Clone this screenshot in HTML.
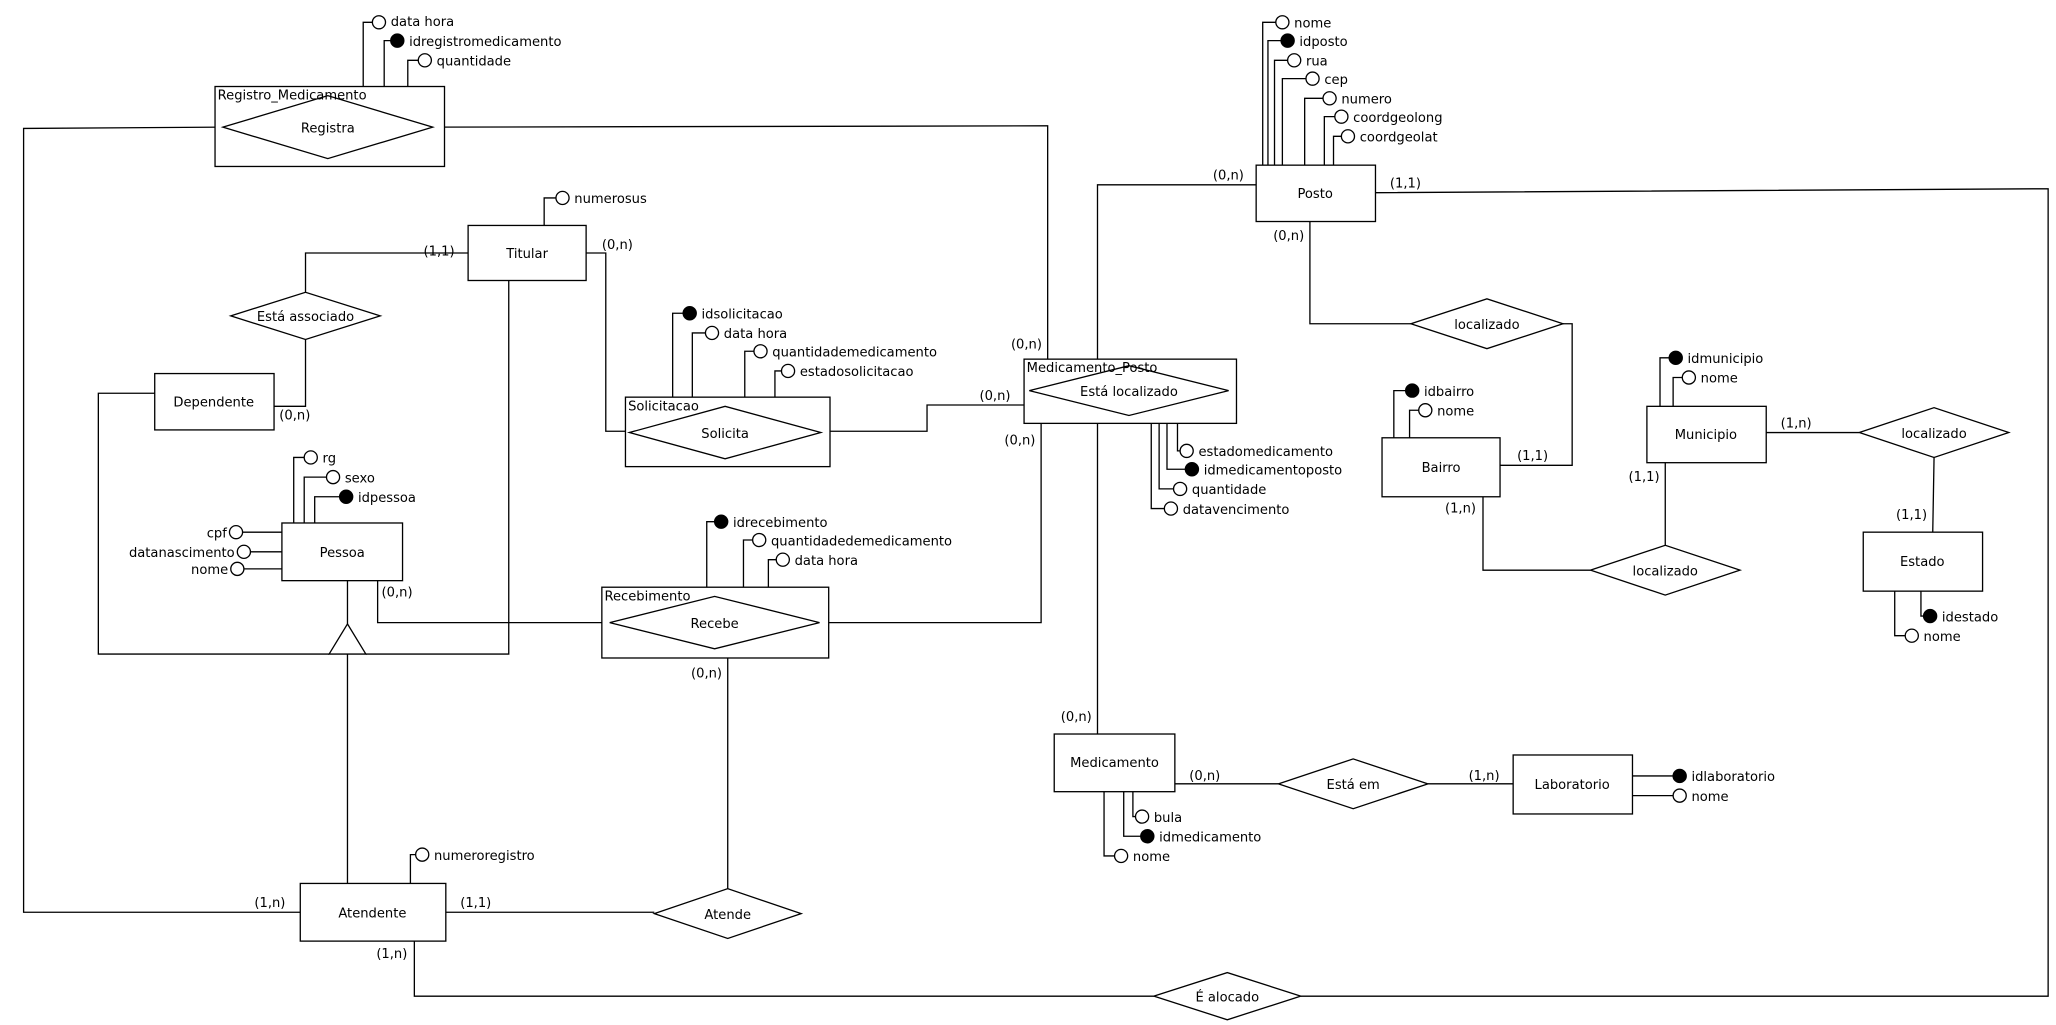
<!DOCTYPE html>
<html><head><meta charset="utf-8"><style>
html,body{margin:0;padding:0;background:#fff;}
svg{display:block;}
text{font-family:"DejaVu Sans","Liberation Sans",sans-serif;font-size:10px;fill:#000;}
.l{stroke:#000;stroke-width:1;fill:none;}
.r{stroke:#000;stroke-width:1;fill:#fff;}
.o{stroke:#000;stroke-width:1;fill:#fff;}
.f{stroke:#000;stroke-width:1;fill:#000;}
</style></head><body>
<svg width="2056" height="1025" viewBox="0 0 1568 782" preserveAspectRatio="none" xmlns="http://www.w3.org/2000/svg">
<!-- connectors -->
<polyline class="l" points="170,97 18,98 18,696 229,696"/>
<polyline class="l" points="330,97 799,96 799,274"/>
<polyline class="l" points="357,193 233,193 233,223"/>
<polyline class="l" points="233,259 233,310 209,310"/>
<polyline class="l" points="447,193 462,193 462,329 480,329"/>
<polyline class="l" points="626,329 707,329 707,309 781,309"/>
<polyline class="l" points="118,300 75,300 75,499 251,499"/>
<polyline class="l" points="388,214 388,499 279,499"/>
<line class="l" x1="265" y1="443" x2="265" y2="476"/>
<line class="l" x1="265" y1="499" x2="265" y2="674"/>
<polyline class="l" points="288,443 288,475 465,475"/>
<polyline class="l" points="625,475 794,475 794,323"/>
<line class="l" x1="555" y1="502" x2="555" y2="678"/>
<line class="l" x1="340" y1="696" x2="499" y2="696"/>
<polyline class="l" points="316,718 316,760 880,760"/>
<polyline class="l" points="992,760 1562,760 1562,144 1049,147"/>
<polyline class="l" points="958,141 837,141 837,560"/>
<polyline class="l" points="999,169 999,247 1076,247"/>
<polyline class="l" points="1192,247 1199,247 1199,355 1144,355"/>
<polyline class="l" points="1131,379 1131,435 1213,435"/>
<line class="l" x1="1270" y1="353" x2="1270" y2="416"/>
<line class="l" x1="1347" y1="330" x2="1418" y2="330"/>
<line class="l" x1="1475" y1="349" x2="1474" y2="406"/>
<line class="l" x1="896" y1="598" x2="975" y2="598"/>
<line class="l" x1="1089" y1="598" x2="1154" y2="598"/>
<!-- triangle -->
<polygon class="r" points="265,476 251,499 279,499"/>

<!-- attribute lines -->
<g class="l">
<polyline points="277,66 277,17 284,17"/><polyline points="293,66 293,31 298,31"/><polyline points="311,66 311,46 319,46"/>
<polyline points="415,172 415,151 424,151"/>
<polyline points="513,303 513,239 521,239"/><polyline points="528,303 528,254 538,254"/><polyline points="568,303 568,268 575,268"/><polyline points="591,303 591,283 596,283"/>
<polyline points="898,323 898,344 900,344"/><polyline points="890,323 890,358 904,358"/><polyline points="884,323 884,373 895,373"/><polyline points="878,323 878,388 888,388"/>
<polyline points="224,399 224,349 232,349"/><polyline points="232,399 232,364 249,364"/><polyline points="240,399 240,379 259,379"/>
<line x1="185" y1="406" x2="215" y2="406"/><line x1="191" y1="421" x2="215" y2="421"/><line x1="186" y1="434" x2="215" y2="434"/>
<polyline points="539,448 539,398 545,398"/><polyline points="567,448 567,412 574,412"/><polyline points="586,448 586,427 592,427"/>
<polyline points="313,674 313,652 317,652"/>
<polyline points="963,126 963,17 973,17"/><polyline points="967,126 967,31 977,31"/><polyline points="972,126 972,46 982,46"/><polyline points="978,126 978,60 996,60"/><polyline points="995,126 995,75 1009,75"/><polyline points="1010,126 1010,89 1018,89"/><polyline points="1017,126 1017,104 1023,104"/>
<polyline points="1063,334 1063,298 1072,298"/><polyline points="1075,334 1075,313 1082,313"/>
<polyline points="1266,310 1266,273 1273,273"/><polyline points="1276,310 1276,288 1283,288"/>
<polyline points="1465,451 1465,470 1467,470"/><polyline points="1445,451 1445,485 1453,485"/>
<polyline points="864,604 864,623 866,623"/><polyline points="857,604 857,638 870,638"/><polyline points="842,604 842,653 850,653"/>
<polyline points="1245,592 1276,592"/><polyline points="1245,607 1276,607"/>
</g>

<!-- boxes -->
<rect class="r" x="164" y="66" width="175" height="61"/>
<polygon class="r" points="170,97 250,73 330,97 250,121"/>
<rect class="r" x="357" y="172" width="90" height="42"/>
<rect class="r" x="118" y="285" width="91" height="43"/>
<polygon class="r" points="176,241 233,223 290,241 233,259"/>
<rect class="r" x="477" y="303" width="156" height="53"/>
<polygon class="r" points="480,330 553,310 626,330 553,350"/>
<rect class="r" x="781" y="274" width="162" height="49"/>
<polygon class="r" points="785,298 861,279 937,298 861,317"/>
<rect class="r" x="215" y="399" width="92" height="44"/>
<rect class="r" x="459" y="448" width="173" height="54"/>
<polygon class="r" points="465,475 545,455 625,475 545,495"/>
<rect class="r" x="229" y="674" width="111" height="44"/>
<polygon class="r" points="499,697 555,678 611,697 555,716"/>
<polygon class="r" points="880,760 936,742 992,760 936,778"/>
<rect class="r" x="958" y="126" width="91" height="43"/>
<polygon class="r" points="1076,247 1134,228 1192,247 1134,266"/>
<rect class="r" x="1054" y="334" width="90" height="45"/>
<polygon class="r" points="1213,435 1270,416 1327,435 1270,454"/>
<rect class="r" x="1256" y="310" width="91" height="43"/>
<polygon class="r" points="1418,330 1475,311 1532,330 1475,349"/>
<rect class="r" x="1421" y="406" width="91" height="45"/>
<rect class="r" x="804" y="560" width="92" height="44"/>
<polygon class="r" points="975,598 1032,579 1089,598 1032,617"/>
<rect class="r" x="1154" y="576" width="91" height="45"/>

<!-- circles -->
<g>
<circle class="o" cx="289" cy="17" r="5"/><circle class="f" cx="303" cy="31" r="5"/><circle class="o" cx="324" cy="46" r="5"/>
<circle class="o" cx="429" cy="151" r="5"/>
<circle class="f" cx="526" cy="239" r="5"/><circle class="o" cx="543" cy="254" r="5"/><circle class="o" cx="580" cy="268" r="5"/><circle class="o" cx="601" cy="283" r="5"/>
<circle class="o" cx="905" cy="344" r="5"/><circle class="f" cx="909" cy="358" r="5"/><circle class="o" cx="900" cy="373" r="5"/><circle class="o" cx="893" cy="388" r="5"/>
<circle class="o" cx="237" cy="349" r="5"/><circle class="o" cx="254" cy="364" r="5"/><circle class="f" cx="264" cy="379" r="5"/>
<circle class="o" cx="180" cy="406" r="5"/><circle class="o" cx="186" cy="421" r="5"/><circle class="o" cx="181" cy="434" r="5"/>
<circle class="f" cx="550" cy="398" r="5"/><circle class="o" cx="579" cy="412" r="5"/><circle class="o" cx="597" cy="427" r="5"/>
<circle class="o" cx="322" cy="652" r="5"/>
<circle class="o" cx="978" cy="17" r="5"/><circle class="f" cx="982" cy="31" r="5"/><circle class="o" cx="987" cy="46" r="5"/><circle class="o" cx="1001" cy="60" r="5"/><circle class="o" cx="1014" cy="75" r="5"/><circle class="o" cx="1023" cy="89" r="5"/><circle class="o" cx="1028" cy="104" r="5"/>
<circle class="f" cx="1077" cy="298" r="5"/><circle class="o" cx="1087" cy="313" r="5"/>
<circle class="f" cx="1278" cy="273" r="5"/><circle class="o" cx="1288" cy="288" r="5"/>
<circle class="f" cx="1472" cy="470" r="5"/><circle class="o" cx="1458" cy="485" r="5"/>
<circle class="o" cx="871" cy="623" r="5"/><circle class="f" cx="875" cy="638" r="5"/><circle class="o" cx="855" cy="653" r="5"/>
<circle class="f" cx="1281" cy="592" r="5"/><circle class="o" cx="1281" cy="607" r="5"/>
</g>

<!-- labels -->
<g>
<text x="166" y="76">Registro_Medicamento</text>
<text x="250" y="101" text-anchor="middle">Registra</text>
<text x="402" y="197" text-anchor="middle">Titular</text>
<text x="163" y="310" text-anchor="middle">Dependente</text>
<text x="233" y="245" text-anchor="middle">Está associado</text>
<text x="479" y="313">Solicitacao</text>
<text x="553" y="334" text-anchor="middle">Solicita</text>
<text x="783" y="284">Medicamento_Posto</text>
<text x="861" y="302" text-anchor="middle">Está localizado</text>
<text x="261" y="425" text-anchor="middle">Pessoa</text>
<text x="461" y="458">Recebimento</text>
<text x="545" y="479" text-anchor="middle">Recebe</text>
<text x="284" y="700" text-anchor="middle">Atendente</text>
<text x="555" y="701" text-anchor="middle">Atende</text>
<text x="936" y="764" text-anchor="middle">É alocado</text>
<text x="1003" y="151" text-anchor="middle">Posto</text>
<text x="1134" y="251" text-anchor="middle">localizado</text>
<text x="1099" y="360" text-anchor="middle">Bairro</text>
<text x="1270" y="439" text-anchor="middle">localizado</text>
<text x="1301" y="335" text-anchor="middle">Municipio</text>
<text x="1475" y="334" text-anchor="middle">localizado</text>
<text x="1466" y="432" text-anchor="middle">Estado</text>
<text x="850" y="585" text-anchor="middle">Medicamento</text>
<text x="1032" y="602" text-anchor="middle">Está em</text>
<text x="1199" y="602" text-anchor="middle">Laboratorio</text>

<text x="298" y="20">data  hora</text><text x="312" y="35">idregistromedicamento</text><text x="333" y="50">quantidade</text>
<text x="438" y="155">numerosus</text>
<text x="535" y="243">idsolicitacao</text><text x="552" y="258">data  hora</text><text x="589" y="272">quantidademedicamento</text><text x="610" y="287">estadosolicitacao</text>
<text x="914" y="348">estadomedicamento</text><text x="918" y="362">idmedicamentoposto</text><text x="909" y="377">quantidade</text><text x="902" y="392">datavencimento</text>
<text x="246" y="353">rg</text><text x="263" y="368">sexo</text><text x="273" y="383">idpessoa</text>
<text x="173" y="410" text-anchor="end">cpf</text><text x="179" y="425" text-anchor="end">datanascimento</text><text x="174" y="438" text-anchor="end">nome</text>
<text x="559" y="402">idrecebimento</text><text x="588" y="416">quantidadedemedicamento</text><text x="606" y="431">data  hora</text>
<text x="331" y="656">numeroregistro</text>
<text x="987" y="21">nome</text><text x="991" y="35">idposto</text><text x="996" y="50">rua</text><text x="1010" y="64">cep</text><text x="1023" y="79">numero</text><text x="1032" y="93">coordgeolong</text><text x="1037" y="108">coordgeolat</text>
<text x="1086" y="302">idbairro</text><text x="1096" y="317">nome</text>
<text x="1287" y="277">idmunicipio</text><text x="1297" y="292">nome</text>
<text x="1481" y="474">idestado</text><text x="1467" y="489">nome</text>
<text x="880" y="627">bula</text><text x="884" y="642">idmedicamento</text><text x="864" y="657">nome</text>
<text x="1290" y="596">idlaboratorio</text><text x="1290" y="611">nome</text>

<text x="323" y="195">(1,1)</text><text x="213" y="320">(0,n)</text><text x="459" y="190">(0,n)</text>
<text x="747" y="305">(0,n)</text><text x="771" y="266">(0,n)</text><text x="766" y="339">(0,n)</text>
<text x="291" y="455">(0,n)</text><text x="527" y="517">(0,n)</text>
<text x="351" y="692">(1,1)</text><text x="194" y="692">(1,n)</text><text x="287" y="731">(1,n)</text>
<text x="925" y="137">(0,n)</text><text x="1060" y="143">(1,1)</text><text x="971" y="183">(0,n)</text>
<text x="1157" y="351">(1,1)</text><text x="1102" y="391">(1,n)</text><text x="1242" y="367">(1,1)</text>
<text x="1358" y="326">(1,n)</text><text x="1446" y="396">(1,1)</text>
<text x="809" y="550">(0,n)</text><text x="907" y="595">(0,n)</text><text x="1120" y="595">(1,n)</text>
</g>
</svg>
</body></html>
